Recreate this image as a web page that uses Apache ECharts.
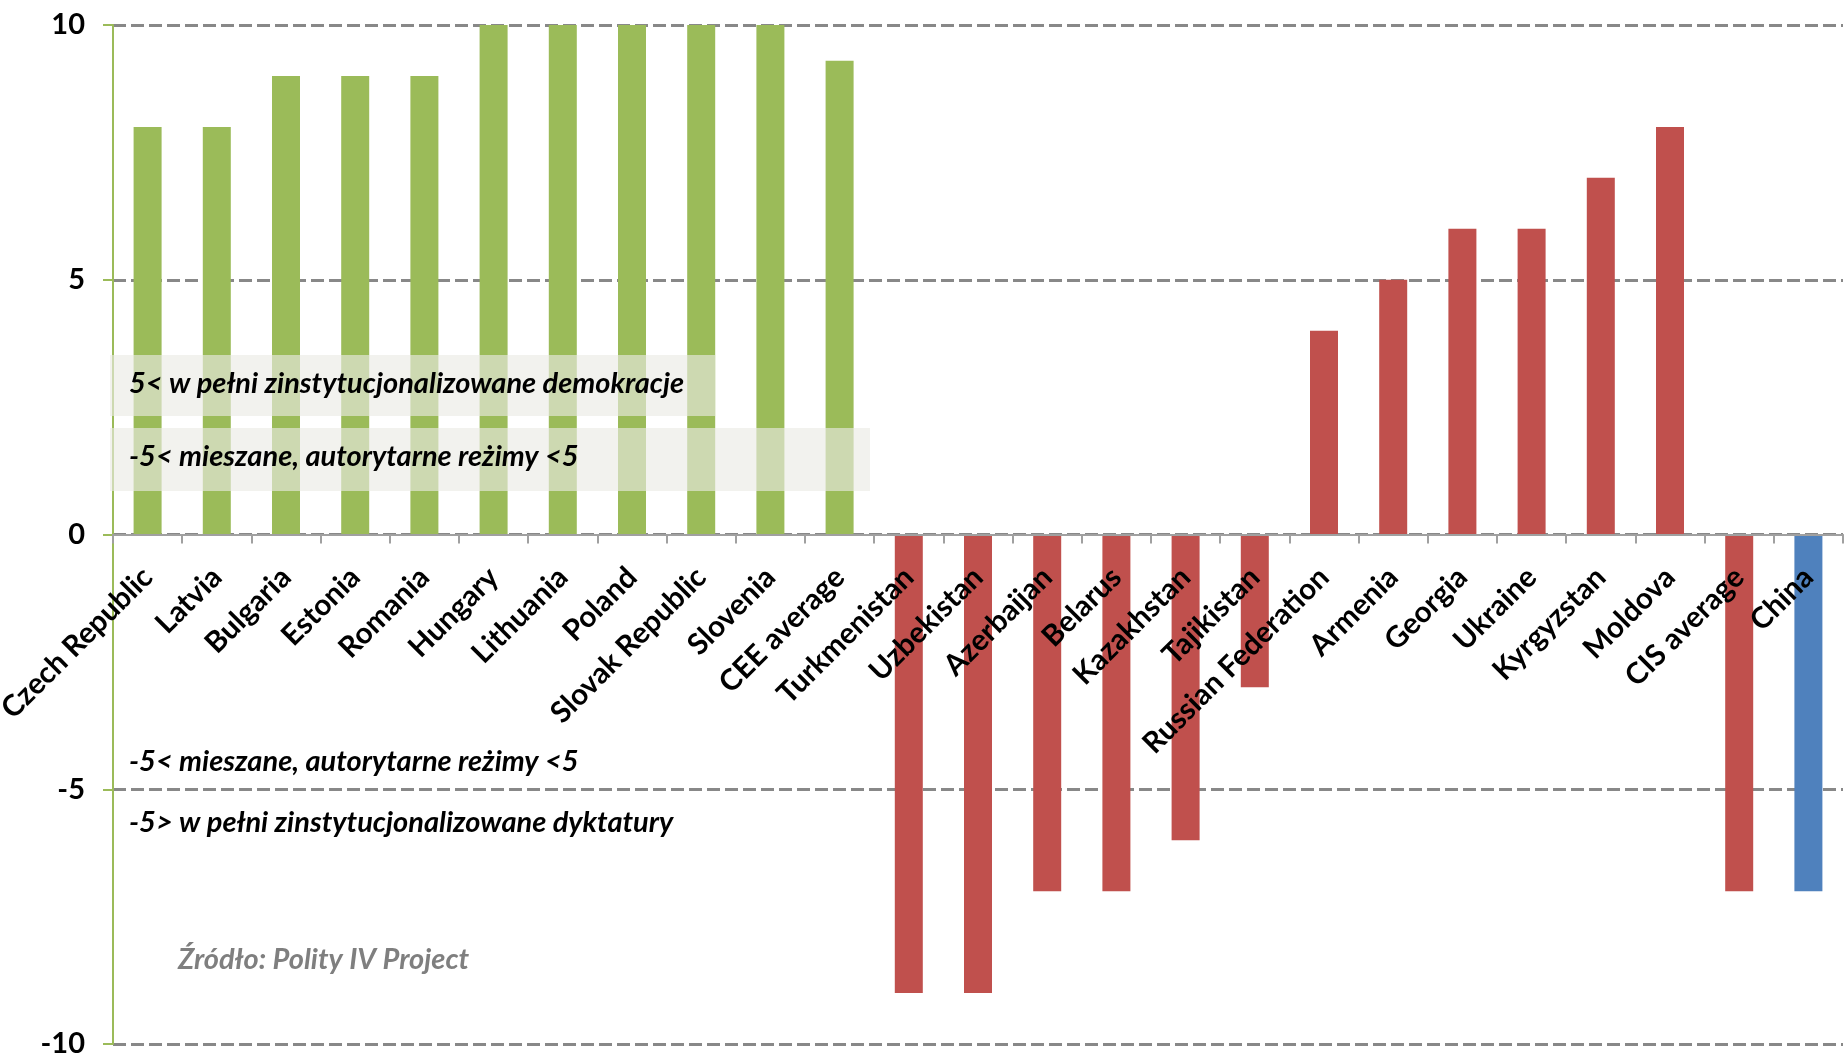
<!DOCTYPE html>
<html>
<head>
<meta charset="utf-8">
<script src="https://cdn.jsdelivr.net/npm/echarts@6/dist/echarts.min.js"></script>
<style>
html,body{margin:0;padding:0;background:#fff;}
#chart{width:1845px;height:1060px;}
</style>
</head>
<body>
<div id="chart"></div>
<script>
var categories = ["Czech Republic","Latvia","Bulgaria","Estonia","Romania","Hungary","Lithuania","Poland","Slovak Republic","Slovenia","CEE average","Turkmenistan","Uzbekistan","Azerbaijan","Belarus","Kazakhstan","Tajikistan","Russian Federation","Armenia","Georgia","Ukraine","Kyrgyzstan","Moldova","CIS average","China"];
var polityValues = [8,8,9,9,9,10,10,10,10,10,9.3,-9,-9,-7,-7,-6,-3,4,5,6,6,7,8,-7,-7];
var groups = ["CEE","CEE","CEE","CEE","CEE","CEE","CEE","CEE","CEE","CEE","CEE","CIS","CIS","CIS","CIS","CIS","CIS","CIS","CIS","CIS","CIS","CIS","CIS","CIS","CN"];
var yTicks = [-10,-5,0,5,10];
var groupColors = {CEE:"#9bbb59", CIS:"#c0504d", CN:"#4f81bd"};
var noteTexts = ["5< w pełni zinstytucjonalizowane demokracje","-5< mieszane, autorytarne reżimy <5","-5< mieszane, autorytarne reżimy <5","-5> w pełni zinstytucjonalizowane dyktatury"];
var sourceText = "Źródło: Polity IV Project";

var W = 1845, H = 1060;
var G = {left:113, right:2, top:25, bottom:16};
var yMin = yTicks[0], yMax = yTicks[yTicks.length-1];
// move the category axis up to the zero line
var zeroOffset = -(H - G.top - G.bottom) * (0 - yMin) / (yMax - yMin);

var chart = echarts.init(document.getElementById('chart'), null, {renderer:'canvas'});
var FONT = 'Lato';
var noteStyle = {fontFamily:FONT, fontWeight:'bold', fontStyle:'italic', fontSize:29, fill:'#000'};

var option = {
  backgroundColor:'#fff',
  animation:false,
  grid:{left:G.left, right:G.right, top:G.top, bottom:G.bottom, containLabel:false, outerBoundsMode:'none'},
  xAxis:{
    type:'category',
    data:categories,
    offset:zeroOffset,
    z:10,
    axisLine:{onZero:false, lineStyle:{color:'#a0a0a0', width:2}},
    axisTick:{show:true, alignWithLabel:false, length:9, lineStyle:{color:'#a0a0a0', width:2}},
    axisLabel:{interval:0, rotate:45, margin:38, color:'#000', fontFamily:FONT, fontWeight:'bold', fontSize:29.5, hideOverlap:false},
    splitLine:{show:false}
  },
  yAxis:{
    type:'value',
    min:yMin, max:yMax, interval:5,
    axisLine:{show:true, onZero:false, lineStyle:{color:'#9bbb59', width:2}},
    axisTick:{show:true, length:10, lineStyle:{color:'#9bbb59', width:2}},
    axisLabel:{margin:28, color:'#000', fontFamily:FONT, fontWeight:'bold', fontSize:29},
    splitLine:{show:true, lineStyle:{color:'#888888', width:3.2, type:[13,5]}}
  },
  series:[{
    type:'bar',
    barWidth:28,
    data:polityValues.map(function(v,i){return {value:v, itemStyle:{color:groupColors[groups[i]]}};}),
    z:2
  }],
  graphic:[
    {type:'rect', z:100, shape:{x:110, y:355, width:605, height:61}, style:{fill:'rgba(234,234,228,0.63)'}},
    {type:'rect', z:100, shape:{x:110, y:428, width:760, height:63}, style:{fill:'rgba(234,234,228,0.63)'}},
    {type:'text', z:101, x:129, y:384, style:Object.assign({text:noteTexts[0], verticalAlign:'middle'}, noteStyle)},
    {type:'text', z:101, x:129, y:457, style:Object.assign({text:noteTexts[1], verticalAlign:'middle'}, noteStyle)},
    {type:'text', z:101, x:129, y:762, style:Object.assign({text:noteTexts[2], verticalAlign:'middle'}, noteStyle)},
    {type:'text', z:101, x:129, y:823, style:Object.assign({text:noteTexts[3], verticalAlign:'middle'}, noteStyle)},
    {type:'text', z:101, x:178, y:960, style:Object.assign({}, noteStyle, {text:sourceText, verticalAlign:'middle', fill:'#7f7f7f'})}
  ]
};
chart.setOption(option);
</script>
</body>
</html>
